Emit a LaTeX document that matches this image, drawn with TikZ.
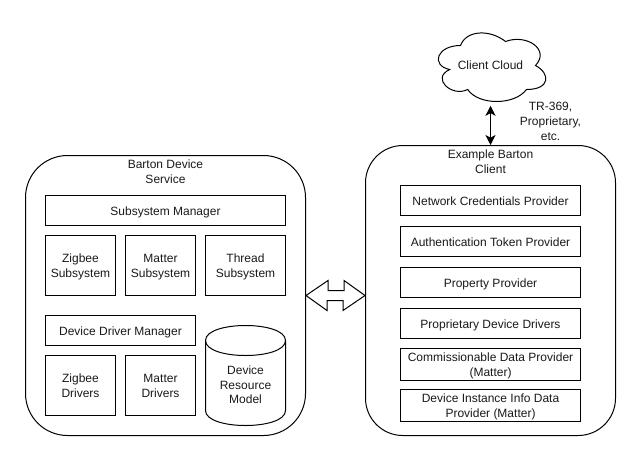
\documentclass[tikz,border=0pt]{standalone}
\usepackage{fontspec}
\setmainfont{Liberation Sans}
\usetikzlibrary{arrows.meta}
\tikzset{
  x=0.75pt,y=-0.75pt,
  every node/.style={font=\fontsize{9pt}{11pt}\selectfont,text=black!90,align=center,inner sep=0pt},
  ln/.style={draw=black,line width=0.75pt},
  bxstyle/.style={ln},
  container/.style={ln,rounded corners=#1},
  link/.style={draw=black,line width=0.75pt,{Stealth[length=7.5pt,width=7.5pt,inset=2pt]}-{Stealth[length=7.5pt,width=7.5pt,inset=2pt]}},
  flex/.style={ln,line join=miter}
}
\newcommand{\bx}[7][bxstyle]{\node[#1,minimum width=#5*0.75pt,minimum height=#6*0.75pt] (#2) at ({#3+#5/2},{#4+#6/2}) {\vbox{\kern2.6pt\hbox{\begin{tabular}{@{}c@{}}#7\end{tabular}}}};}
\begin{document}
\begin{tikzpicture}
\useasboundingbox (0,0) rectangle (641,461);
% containers
\bx[{container=31.5pt}]{svc}{25.5}{155.5}{280}{280}{}
\bx[{container=28pt}]{client}{365.5}{145.5}{250}{290}{}
\node (svctitle) at (165.5,171.5) {Barton Device\\Service};
\node (clienttitle) at (490.5,161.5) {Example Barton\\Client};
% left boxes
\bx{subsys}{45.5}{195.5}{240}{30}{Subsystem Manager}
\bx{zigsub}{45.5}{235.5}{70}{60}{Zigbee\\Subsystem}
\bx{matsub}{125.5}{235.5}{70}{60}{Matter\\Subsystem}
\bx{thrsub}{205.5}{235.5}{80}{60}{Thread\\Subsystem}
\bx{ddm}{45.5}{315.5}{150}{30}{Device Driver Manager}
\bx{zigdrv}{45.5}{355.5}{70}{60}{Zigbee\\Drivers}
\bx{matdrv}{125.5}{355.5}{70}{60}{Matter\\Drivers}
% cylinder
\draw[ln] (205.5,340.5) .. controls (205.5,320.5) and (285.5,320.5) .. (285.5,340.5)
  -- (285.5,410.5) .. controls (285.5,430.5) and (205.5,430.5) .. (205.5,410.5) -- cycle;
\draw[ln] (205.5,340.5) .. controls (205.5,360.5) and (285.5,360.5) .. (285.5,340.5);
\node (drm) at (245.5,385) {Device\\Resource\\Model};
% right boxes
\bx{netcred}{400.5}{185.5}{180}{30}{Network Credentials Provider}
\bx{auth}{400.5}{226.5}{180}{30}{Authentication Token Provider}
\bx{prop}{400.5}{267.5}{180}{30}{Property Provider}
\bx{propdrv}{400.5}{308.5}{180}{30}{Proprietary Device Drivers}
\bx{comm}{400.5}{349.5}{180}{30}{Commissionable Data Provider\\(Matter)}
\bx{inst}{400.5}{390.5}{180}{30}{Device Instance Info Data\\Provider (Matter)}
% cloud
\begin{scope}[shift={(430.5,25.5)},x=90pt,y=-60pt]
\draw[ln] (0.25,0.25) .. controls (0.05,0.25) and (0,0.5) .. (0.16,0.55)
  .. controls (0,0.66) and (0.18,0.9) .. (0.31,0.8)
  .. controls (0.4,1) and (0.7,1) .. (0.8,0.8)
  .. controls (1,0.8) and (1,0.6) .. (0.875,0.5)
  .. controls (1,0.3) and (0.8,0.1) .. (0.625,0.2)
  .. controls (0.5,0.05) and (0.3,0.05) .. (0.25,0.25) -- cycle;
\end{scope}
\node[minimum width=90pt,minimum height=60pt] (cloud) at (490.5,65.5) {Client Cloud};
\draw[link] (cloud.south) -- (client.north);
\node (proto) at (550.5,121.5) {TR-369,\\Proprietary,\\etc.};
% flex arrow
\draw[flex] (svc.east|-310,295.5) -- ++(22,-15) -- ++(0,10) -- ++(16,0) -- ++(0,-10) -- (client.west|-310,295.5)
  -- ++(-22,15) -- ++(0,-10) -- ++(-16,0) -- ++(0,10) -- cycle;
\end{tikzpicture}
\end{document}
